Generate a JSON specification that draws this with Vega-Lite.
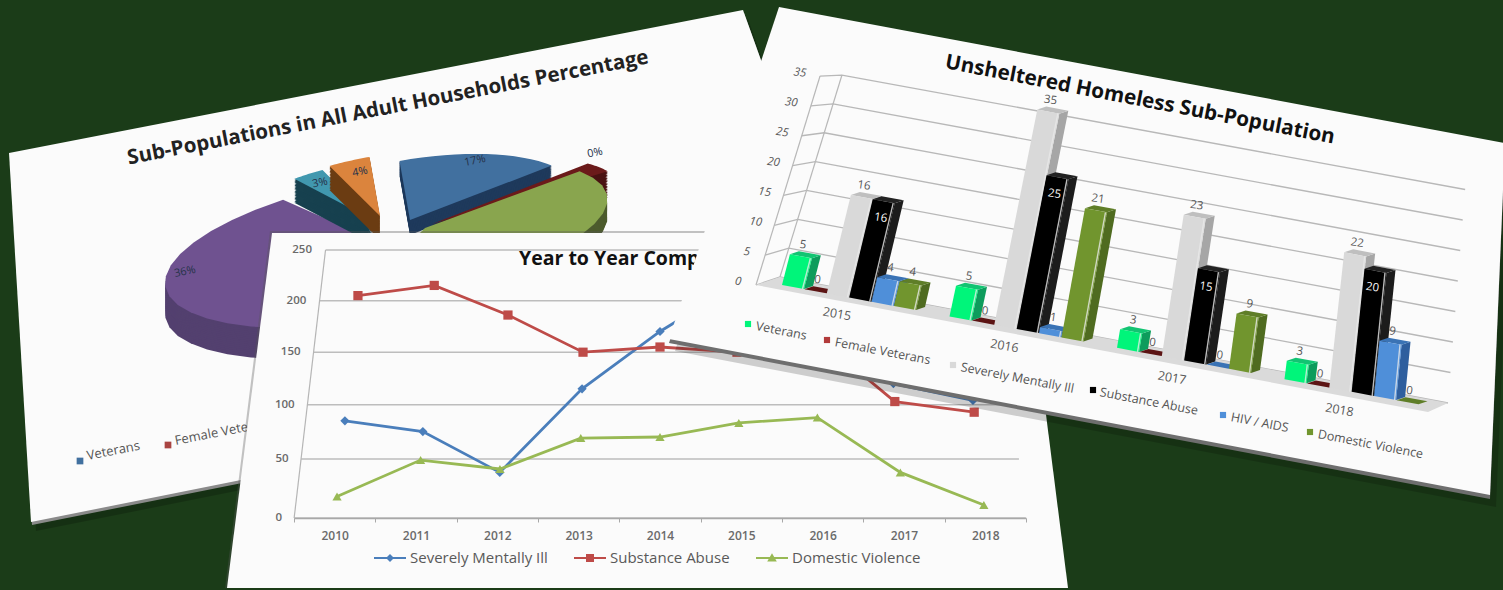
{"$schema":"https://vega.github.io/schema/vega-lite/v6.json","width":1503,"height":590,"padding":0,"autosize":{"type":"none"},"background":"#1b3c18","view":{"stroke":null},
"datasets":{
"corners":[{"corner":0},{"corner":1},{"corner":2},{"corner":3}],
"slices":[{"slice":"Veterans","pct":17},{"slice":"Female Veterans","pct":0},{"slice":"Severely Mentally Ill","pct":40},{"slice":"Substance Abuse","pct":36},{"slice":"HIV / AIDS","pct":3},{"slice":"Domestic Violence","pct":4}],
"trend":[
{"year":2010,"series":"Severely Mentally Ill","value":85},{"year":2011,"series":"Severely Mentally Ill","value":75},{"year":2012,"series":"Severely Mentally Ill","value":38},{"year":2013,"series":"Severely Mentally Ill","value":115},{"year":2014,"series":"Severely Mentally Ill","value":170},{"year":2015,"series":"Severely Mentally Ill","value":215},{"year":2016,"series":"Severely Mentally Ill","value":175},{"year":2017,"series":"Severely Mentally Ill","value":120},{"year":2018,"series":"Severely Mentally Ill","value":104},
{"year":2010,"series":"Substance Abuse","value":205},{"year":2011,"series":"Substance Abuse","value":215},{"year":2012,"series":"Substance Abuse","value":186},{"year":2013,"series":"Substance Abuse","value":150},{"year":2014,"series":"Substance Abuse","value":155},{"year":2015,"series":"Substance Abuse","value":150},{"year":2016,"series":"Substance Abuse","value":168},{"year":2017,"series":"Substance Abuse","value":103},{"year":2018,"series":"Substance Abuse","value":93},
{"year":2010,"series":"Domestic Violence","value":17},{"year":2011,"series":"Domestic Violence","value":49},{"year":2012,"series":"Domestic Violence","value":41},{"year":2013,"series":"Domestic Violence","value":69},{"year":2014,"series":"Domestic Violence","value":70},{"year":2015,"series":"Domestic Violence","value":83},{"year":2016,"series":"Domestic Violence","value":88},{"year":2017,"series":"Domestic Violence","value":38},{"year":2018,"series":"Domestic Violence","value":10}],
"bars":[
{"year":2015,"series":"Veterans","value":5},{"year":2015,"series":"Female Veterans","value":0},{"year":2015,"series":"Severely Mentally Ill","value":16},{"year":2015,"series":"Substance Abuse","value":16},{"year":2015,"series":"HIV / AIDS","value":4},{"year":2015,"series":"Domestic Violence","value":4},
{"year":2016,"series":"Veterans","value":5},{"year":2016,"series":"Female Veterans","value":0},{"year":2016,"series":"Severely Mentally Ill","value":35},{"year":2016,"series":"Substance Abuse","value":25},{"year":2016,"series":"HIV / AIDS","value":1},{"year":2016,"series":"Domestic Violence","value":21},
{"year":2017,"series":"Veterans","value":3},{"year":2017,"series":"Female Veterans","value":0},{"year":2017,"series":"Severely Mentally Ill","value":23},{"year":2017,"series":"Substance Abuse","value":15},{"year":2017,"series":"HIV / AIDS","value":0},{"year":2017,"series":"Domestic Violence","value":9},
{"year":2018,"series":"Veterans","value":3},{"year":2018,"series":"Female Veterans","value":0},{"year":2018,"series":"Severely Mentally Ill","value":22},{"year":2018,"series":"Substance Abuse","value":20},{"year":2018,"series":"HIV / AIDS","value":9},{"year":2018,"series":"Domestic Violence","value":0}]
},
"resolve":{"scale":{"x":"independent","y":"independent","fill":"independent","color":"independent","shape":"independent"},"axis":{"x":"independent","y":"independent"},"legend":{"color":"independent","shape":"independent","fill":"independent"}},
"layer":[
{"layer":[
{"data":{"name":"corners"},"transform":[{"calculate":"[9,743,867,31][datum.corner]+5","as":"px"},{"calculate":"[153,10,355,522][datum.corner]+9","as":"py"}],"mark":{"type":"line","fill":"#000000","fillOpacity":0.2,"strokeWidth":0},"encoding":{"order":{"field":"corner","type":"quantitative"},"x":{"field":"px","type":"quantitative","scale":{"domain":[0,1503],"range":[0,1503],"nice":false},"axis":null},"y":{"field":"py","type":"quantitative","scale":{"domain":[0,590],"range":[0,590],"nice":false},"axis":null}}},
{"data":{"name":"corners"},"transform":[{"calculate":"[9,743,867,31][datum.corner]+1","as":"px"},{"calculate":"[153,10,355,522][datum.corner]+3","as":"py"}],"mark":{"type":"line","fill":"#8a8a8a","strokeWidth":0},"encoding":{"order":{"field":"corner","type":"quantitative"},"x":{"field":"px","type":"quantitative","scale":{"domain":[0,1503],"range":[0,1503],"nice":false},"axis":null},"y":{"field":"py","type":"quantitative","scale":{"domain":[0,590],"range":[0,590],"nice":false},"axis":null}}},
{"data":{"name":"corners"},"transform":[{"calculate":"[9,743,867,31][datum.corner]","as":"px"},{"calculate":"[153,10,355,522][datum.corner]","as":"py"}],"mark":{"type":"line","fill":"#fbfbfb","strokeWidth":0},"encoding":{"order":{"field":"corner","type":"quantitative"},"x":{"field":"px","type":"quantitative","scale":{"domain":[0,1503],"range":[0,1503],"nice":false},"axis":null},"y":{"field":"py","type":"quantitative","scale":{"domain":[0,590],"range":[0,590],"nice":false},"axis":null}}},
{"data":{"name":"slices"},"transform":[
{"window":[{"op":"sum","field":"pct","as":"cum"}],"frame":[null,0]},
{"calculate":"indexof(['Veterans','Female Veterans','Severely Mentally Ill','Substance Abuse','HIV / AIDS','Domestic Violence'],datum.slice)","as":"k"},
{"calculate":"(datum.cum-datum.pct)*3.6-(datum.k==1?4:0)","as":"start"},
{"calculate":"datum.k==1?12:datum.pct*3.6","as":"wd"},
{"calculate":"[1,0.94,0.88,0.82,0.76,0.7,0.64,0.58,0.52,0.46,0.4,0.34,0.28,0.22,0.16,0.1,0.05,0]","as":"lvl"},{"flatten":["lvl"]},
{"calculate":"[-1,0,1,2,3,4,5,6,7,8,9,10,11,12,13,14,15,16]","as":"t"},{"flatten":["t"]},
{"calculate":"[410,432,425,390,373,380][datum.k]","as":"ax"},{"calculate":"[220,224,228,247,220,216][datum.k]","as":"ay"},
{"calculate":"[170,195,185,228,165,165][datum.k]","as":"rx"},{"calculate":"[60,60,60,72,60,60][datum.k]","as":"ry"},{"calculate":"[15,26,18,31,24,24][datum.k]","as":"th"},
{"calculate":"(datum.start+datum.t/16*datum.wd)*PI/180","as":"ang"},
{"calculate":"datum.rx*sin(datum.ang)","as":"ux"},{"calculate":"-datum.ry*cos(datum.ang)","as":"uy"},
{"calculate":"datum.t<0?datum.ax:datum.ax+datum.ux*0.985+datum.uy*0.174","as":"px"},
{"calculate":"datum.ay+datum.lvl*datum.th+(datum.t<0?0:-datum.ux*0.174+datum.uy*0.985)","as":"py"},
{"calculate":"datum.k*2+(datum.lvl>0?0:1)","as":"paint"},
{"calculate":"datum.slice+'-'+datum.lvl","as":"shape"}],
"mark":{"type":"line","strokeWidth":0},"encoding":{"detail":{"field":"shape"},"order":{"field":"t","type":"quantitative"},"fill":{"field":"paint","type":"nominal","legend":null,"scale":{"domain":[0,1,2,3,4,5,6,7,8,9,10,11],"range":["#1f3a5c","#41709f","#4a1212","#6b1a1a","#4d5c2e","#89a54e","#53406f","#6f5290","#17414f","#4198af","#6b3c12","#db843d"]}},"x":{"field":"px","type":"quantitative","scale":{"domain":[0,1503],"range":[0,1503],"nice":false},"axis":null},"y":{"field":"py","type":"quantitative","scale":{"domain":[0,590],"range":[0,590],"nice":false},"axis":null}}},
{"data":{"name":"slices"},"transform":[{"filter":"datum.pct!=40"},{"calculate":"datum.pct+'%'","as":"lab"},{"calculate":"indexof([17,0,36,3,4],datum.pct)","as":"k"},{"calculate":"[475,595,185,320,360][datum.k]","as":"px"},{"calculate":"[161,153,272,183,172][datum.k]","as":"py"}],"mark":{"type":"text","fontSize":11,"font":"Open Sans","color":"#26324a","angle":349},"encoding":{"text":{"field":"lab"},"x":{"field":"px","type":"quantitative","scale":{"domain":[0,1503],"range":[0,1503],"nice":false},"axis":null},"y":{"field":"py","type":"quantitative","scale":{"domain":[0,590],"range":[0,590],"nice":false},"axis":null}}},
{"data":{"values":[{"t":"Sub-Populations in All Adult Households Percentage"}]},"mark":{"type":"text","fontSize":20.5,"fontWeight":"bold","font":"Open Sans","color":"#222222","angle":349,"align":"center"},"encoding":{"text":{"field":"t"},"x":{"datum":388,"scale":{"domain":[0,1503],"range":[0,1503],"nice":false},"axis":null},"y":{"datum":108,"scale":{"domain":[0,590],"range":[0,590],"nice":false},"axis":null}}},
{"data":{"values":[{"t":"Veterans"},{"t":"Female Veterans"}]},"transform":[{"calculate":"datum.t=='Veterans'?0:1","as":"k"},{"calculate":"[87,175][datum.k]","as":"px"},{"calculate":"[456,441][datum.k]","as":"py"}],"mark":{"type":"text","fontSize":13,"font":"Open Sans","color":"#555555","angle":349,"align":"left"},"encoding":{"text":{"field":"t"},"x":{"field":"px","type":"quantitative","scale":{"domain":[0,1503],"range":[0,1503],"nice":false},"axis":null},"y":{"field":"py","type":"quantitative","scale":{"domain":[0,590],"range":[0,590],"nice":false},"axis":null}}},
{"data":{"values":[{"t":"Veterans"},{"t":"Female Veterans"}]},"transform":[{"calculate":"datum.t=='Veterans'?0:1","as":"k"},{"calculate":"[80,168][datum.k]","as":"px"},{"calculate":"[461,445][datum.k]","as":"py"}],"mark":{"type":"point","shape":"square","filled":true,"size":45,"opacity":1},"encoding":{"color":{"field":"t","type":"nominal","legend":null,"scale":{"domain":["Veterans","Female Veterans"],"range":["#41709f","#a94442"]}},"x":{"field":"px","type":"quantitative","scale":{"domain":[0,1503],"range":[0,1503],"nice":false},"axis":null},"y":{"field":"py","type":"quantitative","scale":{"domain":[0,590],"range":[0,590],"nice":false},"axis":null}}}
]},
{"layer":[
{"data":{"name":"corners"},"transform":[{"calculate":"[272,1023,1068,227][datum.corner]-2","as":"px"},{"calculate":"[233,233,590,590][datum.corner]-2","as":"py"}],"mark":{"type":"line","fill":"#555555","fillOpacity":0.35,"strokeWidth":0},"encoding":{"order":{"field":"corner","type":"quantitative"},"x":{"field":"px","type":"quantitative","scale":{"domain":[0,1503],"range":[0,1503],"nice":false},"axis":null},"y":{"field":"py","type":"quantitative","scale":{"domain":[0,590],"range":[0,590],"nice":false},"axis":null}}},
{"data":{"name":"corners"},"transform":[{"calculate":"[272,1023,1068,227][datum.corner]","as":"px"},{"calculate":"[233,233,588,588][datum.corner]","as":"py"}],"mark":{"type":"line","fill":"#fbfbfb","strokeWidth":0},"encoding":{"order":{"field":"corner","type":"quantitative"},"x":{"field":"px","type":"quantitative","scale":{"domain":[0,1503],"range":[0,1503],"nice":false},"axis":null},"y":{"field":"py","type":"quantitative","scale":{"domain":[0,590],"range":[0,590],"nice":false},"axis":null}}}
]},
{"layer":[
{"data":{"values":[{"value":50},{"value":100},{"value":150},{"value":200},{"value":250},{"value":0}]},"transform":[{"calculate":"268*pow(datum.value/250,0.94)","as":"h"},{"calculate":"2014-4.5*(1-0.00032*datum.h)","as":"xl"},{"calculate":"2014+4.5*(1-0.00032*datum.h)","as":"xr"}],"mark":{"type":"rule","color":"#bdbdbd","strokeWidth":1.5},"encoding":{"x":{"field":"xl","type":"quantitative","scale":{"domain":[2010,2018],"range":[334.8,985.2],"nice":false},"axis":null},"x2":{"field":"xr"},"y":{"field":"value","type":"quantitative","scale":{"type":"pow","exponent":0.94,"domain":[0,250],"range":[518,250],"nice":false},"axis":null}}},
{"data":{"values":[{"value":0,"top":250}]},"transform":[{"calculate":"2014-4.5","as":"xb"},{"calculate":"2014-4.5*(1-0.00032*268)","as":"xt"}],"mark":{"type":"rule","color":"#b5b5b5","strokeWidth":1.2},"encoding":{"x":{"field":"xb","type":"quantitative","scale":{"domain":[2010,2018],"range":[334.8,985.2],"nice":false},"axis":null},"x2":{"field":"xt"},"y":{"field":"value","type":"quantitative","axis":null},"y2":{"field":"top"}}},
{"data":{"name":"trend"},"transform":[{"calculate":"268*pow(datum.value/250,0.94)","as":"h"},{"calculate":"2014+(datum.year-2014)*(1-0.00032*datum.h)","as":"xp"}],"mark":{"type":"line","strokeWidth":2.8},"encoding":{"order":{"field":"year","type":"quantitative"},"x":{"field":"xp","type":"quantitative","scale":{"domain":[2010,2018],"range":[334.8,985.2],"nice":false},"axis":null},"y":{"field":"value","type":"quantitative","axis":null},"color":{"field":"series","type":"nominal","legend":null,"scale":{"domain":["Severely Mentally Ill","Substance Abuse","Domestic Violence"],"range":["#4a7ebb","#be4b48","#98b954"]}}}},
{"data":{"name":"trend"},"transform":[{"calculate":"268*pow(datum.value/250,0.94)","as":"h"},{"calculate":"2014+(datum.year-2014)*(1-0.00032*datum.h)","as":"xp"}],"mark":{"type":"point","filled":true,"size":85,"opacity":1},"encoding":{"x":{"field":"xp","type":"quantitative","scale":{"domain":[2010,2018],"range":[334.8,985.2],"nice":false},"axis":null},"y":{"field":"value","type":"quantitative","axis":null},"color":{"field":"series","type":"nominal","legend":null,"scale":{"domain":["Severely Mentally Ill","Substance Abuse","Domestic Violence"],"range":["#4a7ebb","#be4b48","#98b954"]}},"shape":{"field":"series","type":"nominal","legend":null,"scale":{"domain":["Severely Mentally Ill","Substance Abuse","Domestic Violence"],"range":["diamond","square","triangle-up"]}}}}
]},
{"data":{"values":[{"value":0},{"value":50},{"value":100},{"value":150},{"value":200},{"value":250}]},"transform":[{"calculate":"282+30*pow(datum.value/250,0.94)","as":"px"}],"mark":{"type":"text","align":"right","baseline":"middle","fontSize":11.5,"font":"Open Sans","fontWeight":600,"color":"#6a6a6a"},"encoding":{"text":{"field":"value","type":"quantitative"},"x":{"field":"px","type":"quantitative","scale":{"domain":[0,1503],"range":[0,1503],"nice":false},"axis":null},"y":{"field":"value","type":"quantitative","scale":{"type":"pow","exponent":0.94,"domain":[0,250],"range":[518,250],"nice":false},"axis":null}}},
{"data":{"values":[{"year":2010},{"year":2011},{"year":2012},{"year":2013},{"year":2014},{"year":2015},{"year":2016},{"year":2017},{"year":2018}]},"mark":{"type":"point","opacity":0},"encoding":{"x":{"field":"year","type":"ordinal","scale":{"type":"band","domain":[2010,2011,2012,2013,2014,2015,2016,2017,2018],"range":[294,1026],"paddingInner":0,"paddingOuter":0},"axis":{"orient":"bottom","offset":-72,"labelAngle":0,"title":null,"zindex":1,"domain":true,"domainColor":"#a8a8a8","domainWidth":1.5,"tickColor":"#a8a8a8","tickSize":4,"tickBand":"extent","labelColor":"#6a6a6a","labelFontSize":12,"labelFont":"Open Sans","labelFontWeight":600,"labelPadding":8}}}},
{"data":{"values":[{"series":"Severely Mentally Ill"},{"series":"Substance Abuse"},{"series":"Domestic Violence"}]},"mark":{"type":"point","filled":true,"size":0,"opacity":0},"encoding":{"color":{"field":"series","type":"nominal","scale":{"domain":["Severely Mentally Ill","Substance Abuse","Domestic Violence"],"range":["#4a7ebb","#be4b48","#98b954"]},"legend":{"orient":"none","legendX":373,"legendY":541,"direction":"horizontal","columns":3,"title":null,"symbolSize":1024,"symbolOpacity":1,"labelFont":"Open Sans","labelFontSize":15,"labelFontWeight":500,"labelColor":"#595959","labelOffset":3,"columnPadding":23}},"shape":{"field":"series","type":"nominal","scale":{"domain":["Severely Mentally Ill","Substance Abuse","Domestic Violence"],"range":["M-1,-0.07H1V0.07H-1Z M0,-0.25L0.25,0L0,0.25L-0.25,0Z","M-1,-0.07H1V0.07H-1Z M-0.25,-0.25H0.25V0.25H-0.25Z","M-1,-0.07H1V0.07H-1Z M0,-0.3L0.3,0.22H-0.3Z"]},"legend":{"orient":"none","legendX":373,"legendY":541,"direction":"horizontal","columns":3,"title":null,"symbolSize":1024,"symbolOpacity":1,"labelFont":"Open Sans","labelFontSize":15,"labelFontWeight":500,"labelColor":"#595959","labelOffset":3,"columnPadding":23}}}},
{"data":{"values":[{"t":"Year to Year Comparison"}]},"mark":{"type":"text","fontSize":19.5,"fontWeight":"bold","font":"Open Sans","color":"#111111","align":"left"},"encoding":{"text":{"field":"t"},"x":{"datum":519,"scale":{"domain":[0,1503],"range":[0,1503],"nice":false},"axis":null},"y":{"datum":259,"scale":{"domain":[0,590],"range":[0,590],"nice":false},"axis":null}}},
{"resolve":{"scale":{"color":"independent"}},"layer":[
{"data":{"name":"corners"},"transform":[{"calculate":"[779,1505,1490,669][datum.corner]+6","as":"px"},{"calculate":"[7,143,495,339][datum.corner]+12","as":"py"}],"mark":{"type":"line","fill":"#000000","fillOpacity":0.18,"strokeWidth":0},"encoding":{"order":{"field":"corner","type":"quantitative"},"x":{"field":"px","type":"quantitative","scale":{"domain":[0,1503],"range":[0,1503],"nice":false},"axis":null},"y":{"field":"py","type":"quantitative","scale":{"domain":[0,590],"range":[0,590],"nice":false},"axis":null}}},
{"data":{"name":"corners"},"transform":[{"calculate":"[779,1505,1490,669][datum.corner]","as":"px"},{"calculate":"[7,143,495,339][datum.corner]+4","as":"py"}],"mark":{"type":"line","fill":"#6e6e6e","strokeWidth":0},"encoding":{"order":{"field":"corner","type":"quantitative"},"x":{"field":"px","type":"quantitative","scale":{"domain":[0,1503],"range":[0,1503],"nice":false},"axis":null},"y":{"field":"py","type":"quantitative","scale":{"domain":[0,590],"range":[0,590],"nice":false},"axis":null}}},
{"data":{"name":"corners"},"transform":[{"calculate":"[779,1505,1490,669][datum.corner]","as":"px"},{"calculate":"[7,143,495,339][datum.corner]","as":"py"}],"mark":{"type":"line","fill":"#fbfbfb","strokeWidth":0},"encoding":{"order":{"field":"corner","type":"quantitative"},"x":{"field":"px","type":"quantitative","scale":{"domain":[0,1503],"range":[0,1503],"nice":false},"axis":null},"y":{"field":"py","type":"quantitative","scale":{"domain":[0,590],"range":[0,590],"nice":false},"axis":null}}},
{"data":{"values":[{"v":5},{"v":10},{"v":15},{"v":20},{"v":25},{"v":30},{"v":35},{"v":0}]},"transform":[{"calculate":"[0,1,2]","as":"c"},{"flatten":["c"]},{"calculate":"datum.c==0?756+1.83*datum.v:datum.c==1?780+1.77*datum.v:1448+0.49*datum.v","as":"px"},{"calculate":"datum.c==0?285-5.97*datum.v:datum.c==1?277-5.77*datum.v:403-6.1*datum.v","as":"py"}],"mark":{"type":"line","color":"#b8b8b8","strokeWidth":1.3},"encoding":{"detail":{"field":"v"},"order":{"field":"c","type":"quantitative"},"x":{"field":"px","type":"quantitative","scale":{"domain":[0,1503],"range":[0,1503],"nice":false},"axis":null},"y":{"field":"py","type":"quantitative","scale":{"domain":[0,590],"range":[0,590],"nice":false},"axis":null}}},
{"data":{"values":[{"v":0},{"v":35}]},"transform":[{"calculate":"[0,1]","as":"c"},{"flatten":["c"]},{"calculate":"datum.c==0?756+1.83*datum.v:780+1.77*datum.v","as":"px"},{"calculate":"datum.c==0?285-5.97*datum.v:277-5.77*datum.v","as":"py"}],"mark":{"type":"line","color":"#b8b8b8","strokeWidth":1.2},"encoding":{"detail":{"field":"c"},"order":{"field":"v","type":"quantitative"},"x":{"field":"px","type":"quantitative","scale":{"domain":[0,1503],"range":[0,1503],"nice":false},"axis":null},"y":{"field":"py","type":"quantitative","scale":{"domain":[0,590],"range":[0,590],"nice":false},"axis":null}}},
{"data":{"name":"corners"},"transform":[{"calculate":"[756,780,1448,1428][datum.corner]","as":"px"},{"calculate":"[285,277,403,412][datum.corner]","as":"py"}],"mark":{"type":"line","fill":"#dadada","strokeWidth":0},"encoding":{"order":{"field":"corner","type":"quantitative"},"x":{"field":"px","type":"quantitative","scale":{"domain":[0,1503],"range":[0,1503],"nice":false},"axis":null},"y":{"field":"py","type":"quantitative","scale":{"domain":[0,590],"range":[0,590],"nice":false},"axis":null}}},
{"data":{"values":[{"v":0},{"v":5},{"v":10},{"v":15},{"v":20},{"v":25},{"v":30},{"v":35}]},"transform":[{"calculate":"738+1.77*datum.v","as":"px"},{"calculate":"282-5.97*datum.v","as":"py"}],"mark":{"type":"text","fontSize":11.5,"font":"Open Sans","fontStyle":"italic","color":"#595959","angle":8},"encoding":{"text":{"field":"v","type":"quantitative"},"x":{"field":"px","type":"quantitative","scale":{"domain":[0,1503],"range":[0,1503],"nice":false},"axis":null},"y":{"field":"py","type":"quantitative","scale":{"domain":[0,590],"range":[0,590],"nice":false},"axis":null}}},
{"data":{"name":"bars"},"transform":[
{"calculate":"indexof(['Veterans','Female Veterans','Severely Mentally Ill','Substance Abuse','HIV / AIDS','Domestic Violence'],datum.series)","as":"s"},
{"calculate":"782+167.5*(datum.year-2015)+22.4*datum.s","as":"bx"},{"calculate":"285+0.1875*(datum.bx-782)","as":"by"},
{"calculate":"datum.bx+(1.5-0.00165*(datum.bx-830))*datum.value","as":"tx"},{"calculate":"datum.by-6.15*datum.value","as":"ty"},
{"calculate":"[0,1,2]","as":"face"},{"flatten":["face"]},{"calculate":"[0,1,2,3]","as":"c"},{"flatten":["c"]},
{"calculate":"[[0,0,1,1],[1,1,1,1],[0,0,1,1]][datum.face][datum.c]","as":"up"},
{"calculate":"[[1,1,1,1],[0,1,1,0],[0,1,1,0]][datum.face][datum.c]","as":"right"},
{"calculate":"[[0,1,1,0],[0,0,1,1],[0,0,0,0]][datum.face][datum.c]","as":"back"},
{"calculate":"(datum.up?datum.tx:datum.bx)+datum.right*22+datum.back*9","as":"px"},
{"calculate":"(datum.up?datum.ty:datum.by)+datum.right*4.1-datum.back*3","as":"py"},
{"calculate":"datum.s*3+datum.face","as":"paint"},{"calculate":"datum.year+'-'+datum.s+'-'+datum.face","as":"key"}],
"mark":{"type":"line","strokeWidth":0},"encoding":{"detail":{"field":"key"},"order":{"field":"c","type":"quantitative"},"fill":{"field":"paint","type":"nominal","legend":null,"scale":{"domain":[0,1,2,3,4,5,6,7,8,9,10,11,12,13,14,15,16,17],"range":["#0d9c5c","#12c472","#00f57a","#4a1212","#5c1414","#7f1d1d","#a6a6a6","#bfbfbf","#d9d9d9","#1c1c1c","#222222","#000000","#2f5f9e","#3a73b5","#4f8fd9","#4f6b20","#5f7e28","#71952e"]}},"x":{"field":"px","type":"quantitative","scale":{"domain":[0,1503],"range":[0,1503],"nice":false},"axis":null},"y":{"field":"py","type":"quantitative","scale":{"domain":[0,590],"range":[0,590],"nice":false},"axis":null}}},
{"data":{"name":"bars"},"transform":[{"filter":"datum.value>0"},
{"calculate":"indexof(['Veterans','Female Veterans','Severely Mentally Ill','Substance Abuse','HIV / AIDS','Domestic Violence'],datum.series)","as":"s"},
{"calculate":"782+167.5*(datum.year-2015)+22.4*datum.s","as":"bx"},{"calculate":"285+0.1875*(datum.bx-782)","as":"by"},
{"calculate":"datum.bx+(1.5-0.00165*(datum.bx-830))*datum.value+20.5","as":"tx"},{"calculate":"datum.by-6.15*datum.value+4","as":"ty"},{"calculate":"datum.bx+20.5","as":"bxr"},{"calculate":"datum.by+4","as":"byr"}],
"mark":{"type":"rule","color":"#e8e8e8","strokeWidth":1.4,"opacity":0.8},"encoding":{"x":{"field":"tx","type":"quantitative","scale":{"domain":[0,1503],"range":[0,1503],"nice":false},"axis":null},"x2":{"field":"bxr"},"y":{"field":"ty","type":"quantitative","scale":{"domain":[0,590],"range":[0,590],"nice":false},"axis":null},"y2":{"field":"byr"}}},
{"data":{"name":"bars"},"transform":[
{"calculate":"indexof(['Veterans','Female Veterans','Severely Mentally Ill','Substance Abuse','HIV / AIDS','Domestic Violence'],datum.series)","as":"s"},
{"calculate":"782+167.5*(datum.year-2015)+22.4*datum.s","as":"bx"},{"calculate":"285+0.1875*(datum.bx-782)","as":"by"},
{"calculate":"datum.bx+(1.5-0.00165*(datum.bx-830))*datum.value","as":"tx"},{"calculate":"datum.by-6.15*datum.value","as":"ty"},
{"calculate":"datum.s==3?datum.tx+8:datum.tx+13","as":"lx"},{"calculate":"datum.s==3?datum.ty+19:datum.ty-9","as":"ly"},{"calculate":"datum.s==3?'on':'off'","as":"tone"}],
"mark":{"type":"text","fontSize":11.5,"font":"Open Sans","angle":8},"encoding":{"text":{"field":"value","type":"quantitative"},"fontWeight":{"field":"tone","type":"nominal","legend":null,"scale":{"domain":["on","off"],"range":[700,400]}},"color":{"field":"tone","type":"nominal","legend":null,"scale":{"domain":["on","off"],"range":["#ffffff","#555555"]}},"x":{"field":"lx","type":"quantitative","scale":{"domain":[0,1503],"range":[0,1503],"nice":false},"axis":null},"y":{"field":"ly","type":"quantitative","scale":{"domain":[0,590],"range":[0,590],"nice":false},"axis":null}}},
{"data":{"values":[{"year":2015},{"year":2016},{"year":2017},{"year":2018}]},"transform":[{"calculate":"837+167.5*(datum.year-2015)","as":"px"},{"calculate":"314+32*(datum.year-2015)","as":"py"}],"mark":{"type":"text","fontSize":12.5,"font":"Open Sans","color":"#595959","angle":10},"encoding":{"text":{"field":"year","type":"nominal"},"x":{"field":"px","type":"quantitative","scale":{"domain":[0,1503],"range":[0,1503],"nice":false},"axis":null},"y":{"field":"py","type":"quantitative","scale":{"domain":[0,590],"range":[0,590],"nice":false},"axis":null}}},
{"data":{"values":[{"t":"Unsheltered Homeless Sub-Population"}]},"mark":{"type":"text","fontSize":20.7,"fontWeight":"bold","font":"Open Sans","color":"#111111","angle":11,"align":"center"},"encoding":{"text":{"field":"t"},"x":{"datum":1140,"scale":{"domain":[0,1503],"range":[0,1503],"nice":false},"axis":null},"y":{"datum":100,"scale":{"domain":[0,590],"range":[0,590],"nice":false},"axis":null}}},
{"data":{"values":[{"series":"Veterans"},{"series":"Female Veterans"},{"series":"Severely Mentally Ill"},{"series":"Substance Abuse"},{"series":"HIV / AIDS"},{"series":"Domestic Violence"}]},"transform":[{"calculate":"indexof(['Veterans','Female Veterans','Severely Mentally Ill','Substance Abuse','HIV / AIDS','Domestic Violence'],datum.series)","as":"s"},{"calculate":"[748,827,953,1093,1223,1310][datum.s]","as":"px"},{"calculate":"[324,340,365,390,415,432][datum.s]","as":"py"}],"mark":{"type":"point","shape":"square","filled":true,"size":38,"opacity":1},"encoding":{"color":{"field":"series","type":"nominal","legend":null,"scale":{"domain":["Veterans","Female Veterans","Severely Mentally Ill","Substance Abuse","HIV / AIDS","Domestic Violence"],"range":["#00f57a","#b23a3a","#d9d9d9","#000000","#4f8fd9","#71952e"]}},"x":{"field":"px","type":"quantitative","scale":{"domain":[0,1503],"range":[0,1503],"nice":false},"axis":null},"y":{"field":"py","type":"quantitative","scale":{"domain":[0,590],"range":[0,590],"nice":false},"axis":null}}},
{"data":{"values":[{"series":"Veterans"},{"series":"Female Veterans"},{"series":"Severely Mentally Ill"},{"series":"Substance Abuse"},{"series":"HIV / AIDS"},{"series":"Domestic Violence"}]},"transform":[{"calculate":"indexof(['Veterans','Female Veterans','Severely Mentally Ill','Substance Abuse','HIV / AIDS','Domestic Violence'],datum.series)","as":"s"},{"calculate":"[756,835,961,1100,1231,1318][datum.s]","as":"px"},{"calculate":"[326,342,367,392,417,434][datum.s]","as":"py"}],"mark":{"type":"text","fontSize":12.5,"font":"Open Sans","color":"#555555","angle":11,"align":"left"},"encoding":{"text":{"field":"series"},"x":{"field":"px","type":"quantitative","scale":{"domain":[0,1503],"range":[0,1503],"nice":false},"axis":null},"y":{"field":"py","type":"quantitative","scale":{"domain":[0,590],"range":[0,590],"nice":false},"axis":null}}}
]}
]}
